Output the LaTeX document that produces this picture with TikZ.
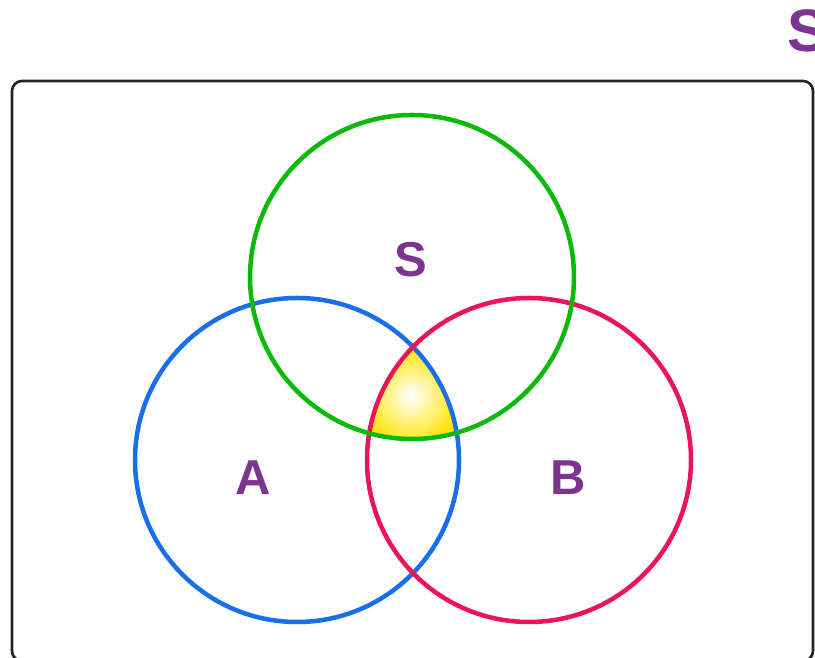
\documentclass[tikz,border=0pt]{standalone}
\usepackage{fontspec}
\setmainfont{Liberation Sans}
\begin{document}
\begin{tikzpicture}[x=1pt,y=1pt,
  ring/.style={line width=4.5pt},
  lbl/.style={text=labelpurple,font=\fontsize{49}{52}\selectfont\bfseries,inner sep=0pt},
]
\definecolor{gcol}{RGB}{10,185,10}
\definecolor{bcol}{RGB}{25,110,235}
\definecolor{rcol}{RGB}{235,20,85}
\definecolor{labelpurple}{RGB}{125,52,145}
\definecolor{ycol}{RGB}{255,228,0}
\definecolor{framecol}{RGB}{35,35,35}
\useasboundingbox (0,0) rectangle (815,658);
\coordinate (cS) at (412,381);
\coordinate (cA) at (297,198);
\coordinate (cB) at (529,198);
% frame
\draw[framecol,line width=2.6pt,rounded corners=10pt] (12,577) rectangle (813,-3);
% yellow intersection
\begin{scope}
  \clip (cS) circle (162);
  \clip (cA) circle (162);
  \clip (cB) circle (162);
  \fill[ycol] (340,200) rectangle (480,330);
  \shade[inner color=white,outer color=ycol] (411,262) circle (50);
\end{scope}
\draw[ring,bcol] (cA) circle (162);
\draw[ring,rcol] (cB) circle (162);
\draw[ring,gcol] (cS) circle (162);
\node[lbl] (labS) at (411,398) {S};
\node[lbl] (labA) at (253,180) {A};
\node[lbl] (labB) at (568,180) {B};
\node[lbl,font=\fontsize{60}{64}\selectfont\bfseries] (title) at (808,627) {S};
\end{tikzpicture}
\end{document}
